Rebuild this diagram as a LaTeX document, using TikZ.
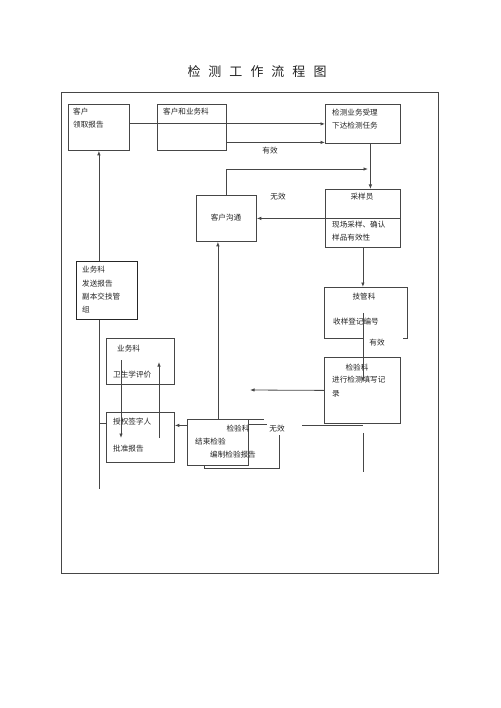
\documentclass[tikz,border=0pt]{standalone}
\usepackage{fontspec}
\setmainfont{Noto Sans CJK SC}
\usepackage{tikz}
\usetikzlibrary{arrows.meta,positioning,calc}
\definecolor{linegray}{RGB}{70,70,70}
\definecolor{textgray}{RGB}{35,35,35}

\tikzset{
  box/.style={draw=linegray, line width=0.8pt, anchor=north west, inner sep=0pt},
  txt/.style={anchor=west, inner sep=0pt, text=textgray, font=\fontsize{7.6}{9}\selectfont},
  ctxt/.style={txt, anchor=center},
  arr/.style={draw=linegray, line width=0.8pt, -{Latex[length=4.5pt,width=3.5pt]}},
  ln/.style={draw=linegray, line width=0.8pt}
}

\begin{document}
\begin{tikzpicture}[x=1pt,y=-1pt]
  \useasboundingbox (0,0) rectangle (500,708);
  \node[inner sep=0pt, text=textgray, font=\fontsize{13}{15}\selectfont] (title) at (257,72)
    {{\spaceskip=8pt 检 测 工 作 流 程 图}};

  % outer frame
  \draw[ln] (61,92) rectangle (438,573);

  % boxes
  \node[box, minimum width=61pt, minimum height=46pt] (recv) at (68,104) {};
  \node[box, minimum width=69pt, minimum height=46pt] (biz) at (157,104) {};
  \node[box, minimum width=75pt, minimum height=39pt] (accept) at (325,104) {};
  \node[box, minimum width=60pt, minimum height=46pt] (comm) at (196,195) {};
  \node[box, minimum width=75pt, minimum height=58pt] (sampler) at (325,189) {};
  \node[box, draw=none, minimum width=83pt, minimum height=51pt] (tech) at (324,287) {};
  \node[box, minimum width=76pt, minimum height=66pt] (inspect) at (324,357) {};
  \node[box, line width=1.2pt, draw=black!85, minimum width=61pt, minimum height=58pt] (send) at (76,261) {};
  \node[box, minimum width=68pt, minimum height=46pt] (eval) at (106,338) {};
  \node[box, minimum width=68pt, minimum height=50pt] (sign) at (106,412) {};

  % stacked report box
  \draw[ln] (204,424) rectangle (279,468);
  \node[box, fill=white, minimum width=61pt, minimum height=46pt] (finish) at (187,419) {};
  \draw[ln] (finish.north east) -- ++(15,0);

  % open outline of tech box
  \draw[ln] (tech.south -| sampler.south) -| (tech.north west) -| (tech.south east) -- ++(-5,0);

  % texts
  \node[txt] (t1) at (73,112) {客户};
  \node[txt] (t2) at (73,125) {领取报告};
  \node[txt] (t3) at (163,112) {客户和业务科};
  \node[txt] (t4) at (332,113) {检测业务受理};
  \node[txt] (t5) at (332,126) {下达检测任务};
  \node[ctxt] (t6) at (226,218) {客户沟通};
  \node[ctxt] (t7) at (362,197) {采样员};
  \node[txt] (t8) at (332,225) {现场采样、确认};
  \node[txt] (t9) at (332,238) {样品有效性};
  \node[ctxt] (t10) at (364,297) {技管科};
  \node[txt] (t11) at (333,322) {收样登记编号};
  \node[ctxt] (t12) at (357,368) {检验科};
  \node[txt] (t13) at (332,380) {进行检测填写记};
  \node[txt] (t14) at (332,394) {录};
  \node[txt] (t15) at (82,270) {业务科};
  \node[txt] (t16) at (82,284) {发送报告};
  \node[txt] (t17) at (82,297) {副本交技管};
  \node[txt] (t18) at (82,310) {组};
  \node[txt] (t19) at (117,349) {业务科};
  \node[txt] (t20) at (113,375) {卫生学评价};
  \node[txt] (t21) at (113,422) {授权签字人};
  \node[txt] (t22) at (113,449) {批准报告};
  \node[ctxt] (t23) at (238,429) {检验科};
  \node[txt] (t24) at (195,442) {结束检验};
  \node[txt] (t25) at (210,455) {编制检验报告};

  % labels
  \node[ctxt] (ok1) at (270,151) {有效};
  \node[ctxt] (no1) at (278,197) {无效};
  \node[ctxt] (ok2) at (377,343) {有效};
  \node[ctxt, fill=white, inner sep=2pt] (no2) at (277,429) {无效};

  % connectors
  \coordinate (merge) at (368,169);
  \coordinate (open) at (250,390);
  \draw[arr] (recv.east |- accept.west) -- (accept.west);
  \draw[arr] ([yshift=-15pt]biz.east) coordinate (b1) -- (b1 -| accept.west);
  \draw[arr] ([xshift=7.5pt]accept.south) -- ([xshift=7.5pt]sampler.north);
  \draw[arr] (comm.north) |- (merge);
  \draw[arr] (sampler.east) -- (comm.east);
  \draw[arr] (sampler.south) -- (tech.north -| sampler.south);
  \draw[arr] (tech.center -| sampler.south) -- ++(0,69);
  \draw[arr] (inspect.west) -- (open);
  \draw[ln] ([yshift=-9pt]inspect.south -| sampler.south) -- ++(0,39);
  \draw[ln] (inspect.south -| sampler.south) ++(0,2) -- ++(-61,0);
  \draw[arr] (finish.north) -- (comm.south -| finish.north);
  \draw[arr] ([yshift=17pt]finish.west) coordinate (f1) -- (f1 -| sign.east);
  \draw[arr] (send.north -| recv.south) -- (recv.south);
  \draw[ln] (send.south -| recv.south) -- ++(0,169);
  \draw[ln] (sign.west) ++(0,-14) -- ++(-7,0);
  \draw[arr] (121,360) -- (121,438);
  \draw[arr] (159,438) -- (159,362);
\end{tikzpicture}
\end{document}
